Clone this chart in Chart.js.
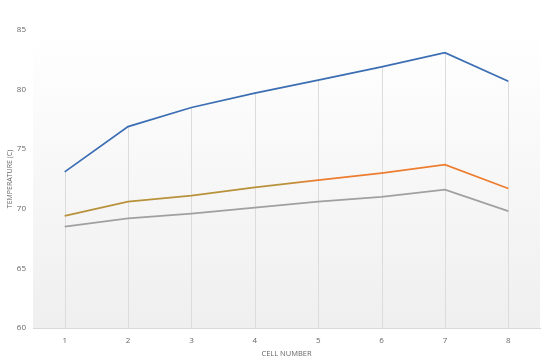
<!DOCTYPE html>
<html><head><meta charset="utf-8">
<script src="https://cdn.jsdelivr.net/npm/chart.js@4/dist/chart.umd.min.js"></script>
<style>html,body{margin:0;padding:0;background:#fff}#c{display:block}</style>
</head><body>
<canvas id="c" width="550" height="361"></canvas>
<script>
const categories = ['1','2','3','4','5','6','7','8'];
const seriesBlue = [73.1, 76.9, 78.5, 79.7, 80.8, 81.9, 83.1, 80.7];
const seriesOrange = [69.4, 70.6, 71.1, 71.8, 72.4, 73.0, 73.7, 71.7];
const seriesGray = [68.5, 69.2, 69.6, 70.1, 70.6, 71.0, 71.6, 69.8];
const yTicks = [60, 65, 70, 75, 80, 85];

const bgPlugin = {
  id: 'bg',
  beforeDraw(chart) {
    const {ctx, chartArea: a} = chart;
    const g = ctx.createLinearGradient(0, a.top, 0, a.bottom);
    g.addColorStop(0, '#ffffff');
    g.addColorStop(1, '#efefef');
    ctx.save();
    ctx.fillStyle = g;
    ctx.fillRect(a.left, a.top, a.right - a.left, a.bottom - a.top);
    ctx.restore();
  },
  beforeDatasetsDraw(chart) {
    const {ctx, scales: {x, y}} = chart;
    ctx.save();
    ctx.strokeStyle = '#dcdcdc';
    ctx.lineWidth = 1;
    categories.forEach((c, i) => {
      const top = Math.max(seriesBlue[i], seriesOrange[i], seriesGray[i]);
      const px = Math.round(x.getPixelForValue(i)) + 0.5;
      ctx.beginPath();
      ctx.moveTo(px, y.getPixelForValue(top));
      ctx.lineTo(px, y.getPixelForValue(60));
      ctx.stroke();
    });
    ctx.restore();
  }
};

function orangeGrad(ctx) {
  const a = ctx.chart.chartArea;
  if (!a) return '#ed7d31';
  const g = ctx.chart.ctx.createLinearGradient(a.left, 0, a.right, 0);
  g.addColorStop(0, '#b8923a');
  g.addColorStop(0.5, '#b8923a');
  g.addColorStop(0.56, '#ed7d31');
  g.addColorStop(1, '#ed7d31');
  return g;
}

new Chart(document.getElementById('c'), {
  type: 'line',
  data: {
    labels: categories,
    datasets: [
      {data: seriesBlue, borderColor: '#3c6eb4', borderWidth: 1.75, pointRadius: 0, tension: 0},
      {data: seriesOrange, borderColor: orangeGrad, borderWidth: 1.75, pointRadius: 0, tension: 0},
      {data: seriesGray, borderColor: '#a0a0a0', borderWidth: 1.75, pointRadius: 0, tension: 0}
    ]
  },
  options: {
    responsive: false,
    animation: false,
    layout: {padding: {top: 30, right: 10, left: 0, bottom: 0}},
    plugins: {legend: {display: false}, tooltip: {enabled: false}},
    scales: {
      x: {
        offset: true,
        afterFit(s) { s.height = 33; },
        grid: {display: false, drawTicks: false},
        border: {display: true, color: '#d9d9d9', width: 1},
        ticks: {color: '#666', font: {family: 'Open Sans', size: 8}, padding: 8},
        title: {display: true, text: 'CELL NUMBER', color: '#666', font: {family: 'Open Sans', size: 7.5}, padding: {top: 0, bottom: 3}}
      },
      y: {
        min: 60, max: 85,
        afterBuildTicks(s) { s.ticks = yTicks.map(v => ({value: v})); },
        afterFit(s) { s.width = 33; },
        grid: {display: false, drawTicks: false},
        border: {display: false},
        ticks: {color: '#666', font: {family: 'Open Sans', size: 8}, padding: 7},
        title: {display: true, text: 'TEMPERATURE (C)', color: '#666', font: {family: 'Open Sans', size: 7}, padding: {top: 6, bottom: 0}}
      }
    }
  },
  plugins: [bgPlugin]
});
</script>
</body></html>
